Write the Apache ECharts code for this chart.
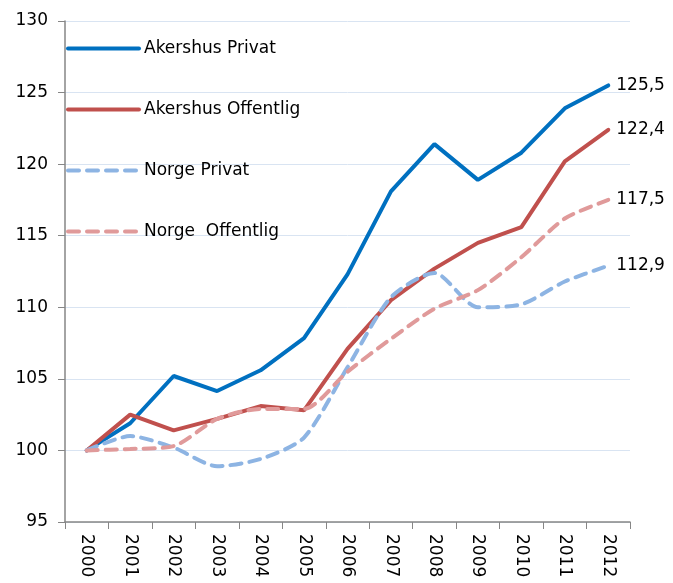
<!DOCTYPE html>
<html>
<head>
<meta charset="utf-8">
<script src="https://cdn.jsdelivr.net/npm/echarts@6/dist/echarts.min.js"></script>
<style>
  html, body { margin: 0; padding: 0; background: #fff; }
  #chart { width: 673px; height: 583px; }
</style>
</head>
<body>
<div id="chart"></div>
<script>
var years = ['2000','2001','2002','2003','2004','2005','2006','2007','2008','2009','2010','2011','2012'];
var akershusPrivat    = [100, 101.9, 105.2, 104.15, 105.6, 107.85, 112.3, 118.1, 121.4, 118.9, 120.8, 123.9, 125.5];
var akershusOffentlig = [100, 102.5, 101.4, 102.2, 103.1, 102.8, 107.1, 110.5, 112.7, 114.5, 115.6, 120.2, 122.4];
var norgePrivat       = [100, 101.0, 100.2, 98.9, 99.4, 100.9, 105.8, 110.7, 112.4, 110.0, 110.2, 111.8, 112.9];
var norgeOffentlig    = [100, 100.1, 100.3, 102.2, 102.9, 102.9, 105.5, 107.8, 109.9, 111.2, 113.5, 116.2, 117.5];

var font = 'DejaVu Sans, Liberation Sans, Arial, sans-serif';

function mkSeries(name, data, color, dashed) {
    return {
        name: name,
        type: 'line',
        data: data,
        symbol: 'none',
        smooth: dashed ? 0.25 : false,
        lineStyle: {
            color: color,
            width: 4,
            type: dashed ? [11, 8] : 'solid',
            cap: 'round'
        },
        itemStyle: { color: color },
        endLabel: {
            show: true,
            distance: 8,
            color: '#000',
            fontFamily: font,
            fontSize: 17,
            formatter: function (p) { return String(p.value).replace('.', ','); }
        }
    };
}

var myChart = echarts.init(document.getElementById('chart'));
myChart.setOption({
    animation: false,
    grid: { left: 65, right: 43, top: 21, bottom: 61 },
    legend: {
        orient: 'vertical',
        left: 61,
        top: 35,
        itemWidth: 71,
        itemHeight: 14,
        itemGap: 44,
        itemStyle: { opacity: 0 },
        lineStyle: { width: 4 },
        textStyle: { color: '#000', fontFamily: font, fontSize: 17 },
        data: ['Akershus Privat', 'Akershus Offentlig', 'Norge Privat', 'Norge  Offentlig']
    },
    xAxis: {
        type: 'category',
        data: years,
        boundaryGap: true,
        axisLine: { lineStyle: { color: '#868686', width: 1.5 } },
        axisTick: { show: true, length: 7, lineStyle: { color: '#868686' } },
        axisLabel: { rotate: -90, color: '#000', fontFamily: font, fontSize: 17, margin: 12 },
        splitLine: { show: false }
    },
    yAxis: {
        type: 'value',
        min: 95,
        max: 130,
        interval: 5,
        axisLine: { show: true, lineStyle: { color: '#868686', width: 1.5 } },
        axisTick: { show: true, length: 7, lineStyle: { color: '#868686' } },
        axisLabel: { color: '#000', fontFamily: font, fontSize: 17, margin: 17 },
        splitLine: { show: true, lineStyle: { color: '#d9e4f2', width: 1 } }
    },
    series: [
        mkSeries('Akershus Privat', akershusPrivat, '#0070c0', false),
        mkSeries('Akershus Offentlig', akershusOffentlig, '#c0504d', false),
        mkSeries('Norge Privat', norgePrivat, '#8db4e3', true),
        mkSeries('Norge  Offentlig', norgeOffentlig, '#e09a9a', true)
    ]
});
</script>
</body>
</html>
